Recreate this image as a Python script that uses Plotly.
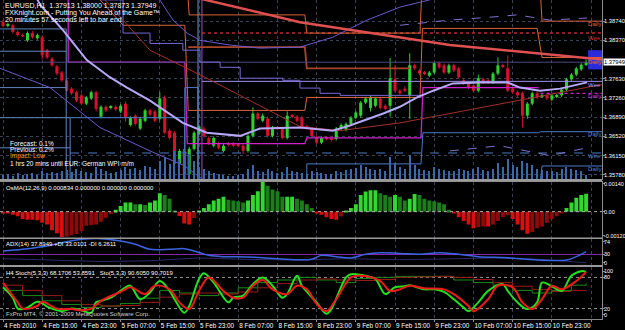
import plotly.graph_objects as go

# ---------------- data ----------------
time_labels = ["4 Feb 2010", "4 Feb 15:00", "4 Feb 23:00", "5 Feb 07:00", "5 Feb 15:00",
               "5 Feb 23:00", "8 Feb 07:00", "8 Feb 15:00", "8 Feb 23:00", "9 Feb 07:00",
               "9 Feb 15:00", "9 Feb 23:00", "10 Feb 07:00", "10 Feb 15:00", "10 Feb 23:00",
               "11 Feb 07:00"]
time_label_bars = [0, 8, 16, 24, 32, 40, 48, 56, 64, 72, 80, 88, 96, 104, 112, 120]

price_ticks = [1.38740, 1.38370, 1.37630, 1.37260, 1.36890, 1.36520, 1.36150, 1.35780]
last_price = 1.37949

opens = [1.3872, 1.3865, 1.3866, 1.3853, 1.3847, 1.3837, 1.3851, 1.3841, 1.3843, 1.3818,
         1.3802, 1.3787, 1.3775, 1.3760, 1.3744, 1.3737, 1.3731, 1.3715, 1.3725, 1.3737,
         1.3690, 1.3709, 1.3707, 1.3709, 1.3700, 1.3715, 1.3674, 1.3692, 1.3667, 1.3682,
         1.3702, 1.3700, 1.3686, 1.3727, 1.3663, 1.3659, 1.3599, 1.3624, 1.3579, 1.3628,
         1.3657, 1.3667, 1.3649, 1.3634, 1.3638, 1.3624, 1.3638, 1.3638, 1.3636, 1.3634,
         1.3624, 1.3653, 1.3696, 1.3682, 1.3686, 1.3653, 1.3669, 1.3667, 1.3649, 1.3692,
         1.3690, 1.3688, 1.3672, 1.3667, 1.3651, 1.3640, 1.3649, 1.3649, 1.3647, 1.3667,
         1.3665, 1.3676, 1.3688, 1.3692, 1.3717, 1.3707, 1.3711, 1.3725, 1.3711, 1.3711,
         1.3762, 1.3740, 1.3744, 1.3731, 1.3789, 1.3779, 1.3775, 1.3769, 1.3775, 1.3793,
         1.3789, 1.3775, 1.3789, 1.3783, 1.3760, 1.3754, 1.3750, 1.3740, 1.3762, 1.3760,
         1.3756, 1.3773, 1.3789, 1.3783, 1.3744, 1.3737, 1.3735, 1.3692, 1.3715, 1.3735,
         1.3729, 1.3731, 1.3723, 1.3729, 1.3731, 1.3742, 1.3762, 1.3771, 1.3781, 1.37913]
highs = [1.3876, 1.3871, 1.3869, 1.3856, 1.3850, 1.3854, 1.3855, 1.3850, 1.3846, 1.3821,
         1.3805, 1.3790, 1.3778, 1.3763, 1.3747, 1.3740, 1.3734, 1.3730, 1.3740, 1.3740,
         1.3712, 1.3712, 1.3712, 1.3712, 1.3714, 1.3719, 1.3691, 1.3695, 1.3689, 1.3705,
         1.3705, 1.3703, 1.3737, 1.3731, 1.3667, 1.3662, 1.3628, 1.3630, 1.3632, 1.3662,
         1.3675, 1.3671, 1.3652, 1.3652, 1.3642, 1.3637, 1.3641, 1.3641, 1.3639, 1.3637,
         1.3656, 1.3708, 1.3699, 1.3696, 1.3690, 1.3672, 1.3672, 1.3670, 1.3700, 1.3695,
         1.3693, 1.3691, 1.3675, 1.3670, 1.3654, 1.3652, 1.3652, 1.3652, 1.3670, 1.3677,
         1.3679, 1.3691, 1.3701, 1.3720, 1.3728, 1.3730, 1.3728, 1.3728, 1.3714, 1.3803,
         1.3789, 1.3743, 1.3748, 1.3812, 1.3792, 1.3782, 1.3778, 1.3778, 1.3796, 1.3796,
         1.3792, 1.3792, 1.3792, 1.3786, 1.3763, 1.3757, 1.3753, 1.3771, 1.3765, 1.3763,
         1.3776, 1.3804, 1.3792, 1.3808, 1.3747, 1.3740, 1.3738, 1.3718, 1.3738, 1.3738,
         1.3734, 1.3734, 1.3734, 1.3734, 1.3745, 1.3765, 1.3774, 1.3786, 1.3793, 1.38000]
lows = [1.3862, 1.3862, 1.3850, 1.3844, 1.3843, 1.3834, 1.3840, 1.3838, 1.3800, 1.3801,
        1.3786, 1.3770, 1.3757, 1.3737, 1.3732, 1.3718, 1.3712, 1.3712, 1.3722, 1.3700,
        1.3687, 1.3699, 1.3704, 1.3701, 1.3697, 1.3680, 1.3671, 1.3673, 1.3664, 1.3679,
        1.3691, 1.3679, 1.3683, 1.3656, 1.3646, 1.3591, 1.3596, 1.3575, 1.3576, 1.3625,
        1.3654, 1.3650, 1.3635, 1.3631, 1.3627, 1.3621, 1.3633, 1.3631, 1.3631, 1.3618,
        1.3621, 1.3650, 1.3683, 1.3679, 1.3650, 1.3650, 1.3664, 1.3646, 1.3646, 1.3687,
        1.3679, 1.3666, 1.3668, 1.3650, 1.3637, 1.3637, 1.3644, 1.3642, 1.3644, 1.3664,
        1.3662, 1.3673, 1.3685, 1.3688, 1.3714, 1.3700, 1.3708, 1.3704, 1.3702, 1.3690,
        1.3737, 1.3732, 1.3737, 1.3686, 1.3780, 1.3770, 1.3770, 1.3766, 1.3772, 1.3782,
        1.3772, 1.3772, 1.3776, 1.3763, 1.3751, 1.3743, 1.3737, 1.3737, 1.3753, 1.3753,
        1.3753, 1.3770, 1.3784, 1.3737, 1.3734, 1.3728, 1.3669, 1.3686, 1.3712, 1.3724,
        1.3726, 1.3722, 1.3720, 1.3726, 1.3728, 1.3739, 1.3759, 1.3768, 1.3778, 1.37873]
closes = [1.3865, 1.3868, 1.3853, 1.3847, 1.3846, 1.3851, 1.3843, 1.3847, 1.3808, 1.3804,
          1.3789, 1.3773, 1.3760, 1.3740, 1.3735, 1.3721, 1.3715, 1.3727, 1.3737, 1.3705,
          1.3709, 1.3702, 1.3709, 1.3704, 1.3711, 1.3688, 1.3688, 1.3676, 1.3686, 1.3702,
          1.3694, 1.3682, 1.3725, 1.3659, 1.3649, 1.3599, 1.3624, 1.3579, 1.3628, 1.3659,
          1.3671, 1.3653, 1.3638, 1.3649, 1.3630, 1.3634, 1.3636, 1.3634, 1.3634, 1.3624,
          1.3653, 1.3696, 1.3686, 1.3692, 1.3653, 1.3669, 1.3667, 1.3649, 1.3692, 1.3690,
          1.3682, 1.3669, 1.3671, 1.3653, 1.3640, 1.3649, 1.3647, 1.3645, 1.3667, 1.3674,
          1.3676, 1.3688, 1.3698, 1.3717, 1.3725, 1.3727, 1.3725, 1.3707, 1.3705, 1.3764,
          1.3740, 1.3735, 1.3740, 1.3789, 1.3783, 1.3773, 1.3773, 1.3775, 1.3793, 1.3785,
          1.3775, 1.3789, 1.3779, 1.3766, 1.3754, 1.3746, 1.3740, 1.3764, 1.3756, 1.3756,
          1.3773, 1.3789, 1.3787, 1.3740, 1.3737, 1.3731, 1.3692, 1.3715, 1.3735, 1.3727,
          1.3731, 1.3725, 1.3731, 1.3731, 1.3742, 1.3762, 1.3771, 1.3783, 1.3790, 1.37949]
bars = list(range(len(closes)))

volumes = [120, 150, 90, 180, 120, 150, 180, 120, 240, 180,
           210, 180, 240, 270, 210, 300, 240, 210, 180, 360,
           300, 240, 180, 210, 270, 360, 300, 330, 270, 390,
           360, 300, 540, 660, 450, 840, 600, 900, 750, 540,
           360, 300, 240, 180, 150, 120, 90, 90, 120, 150,
           300, 420, 240, 210, 300, 240, 180, 210, 360, 240,
           210, 180, 150, 240, 210, 180, 150, 150, 240, 210,
           270, 300, 330, 420, 360, 300, 270, 300, 240, 660,
           480, 360, 300, 720, 420, 300, 270, 240, 360, 300,
           270, 240, 240, 300, 270, 240, 300, 360, 270, 240,
           300, 480, 360, 600, 420, 360, 540, 480, 420, 300,
           270, 240, 240, 210, 300, 360, 300, 270, 240, 120]

osma = [-0.00005, -0.00009, -0.00014, -0.00021, -0.00034, -0.00038, -0.00038, -0.00040, -0.00052, -0.00060,
        -0.00086, -0.00100, -0.00118, -0.00116, -0.00110, -0.00104, -0.00091, -0.00066, -0.00063, -0.00060,
        -0.00047, -0.00028, -0.00011, 0.00009, 0.00026, 0.00043, 0.00043, 0.00034, 0.00034, 0.00031,
        0.00043, 0.00052, 0.00086, 0.00077, 0.00060, 0.00005, -0.00020, -0.00055, -0.00060, -0.00030,
        0.00005, 0.00017, 0.00034, 0.00052, 0.00060, 0.00069, 0.00055, 0.00052, 0.00048, 0.00043,
        0.00052, 0.00077, 0.00095, 0.00140, 0.00120, 0.00103, 0.00095, 0.00069, 0.00069, 0.00069,
        0.00060, 0.00052, 0.00034, 0.00017, -0.00005, -0.00014, -0.00026, -0.00034, -0.00038, -0.00021,
        0.00003, 0.00017, 0.00034, 0.00077, 0.00094, 0.00099, 0.00099, 0.00086, 0.00077, 0.00069,
        0.00077, 0.00069, 0.00052, 0.00060, 0.00082, 0.00077, 0.00060, 0.00052, 0.00048, 0.00043,
        0.00034, 0.00009, -0.00005, -0.00026, -0.00043, -0.00060, -0.00077, -0.00072, -0.00069, -0.00069,
        -0.00060, -0.00043, -0.00026, -0.00017, -0.00034, -0.00060, -0.00086, -0.00103, -0.00094, -0.00077,
        -0.00069, -0.00052, -0.00034, -0.00021, -0.00005, 0.00017, 0.00043, 0.00065, 0.00077, 0.000834]
osma_labels = ["0.00140", "0.00", "-0.00120"]
osma_label_vals = [0.00129, 0, -0.00111]

adx_bar = [0, 4, 9, 12, 16, 20, 24, 27, 30, 34, 37, 39, 42, 45, 48, 53, 56, 63, 65, 68,
           71, 74, 77, 81, 85, 89, 93, 97, 103, 109, 115, 117, 119]
adx_val = [40, 44.7, 54, 63.5, 73, 75, 68, 59, 44.7, 44.7, 46.5, 40, 27.6, 23.7, 23.7, 20.8, 18, 16.1, 27.6, 23.7,
           20, 30.5, 35, 33, 30.5, 35, 30.5, 23.7, 20.8, 14.2, 14.2, 23.7, 37.89]
minus_di_bar = [0, 10, 20, 30, 40, 50, 60, 70, 80, 90, 100, 110, 119]
minus_di_val = [18, 14, 10, 12, 20, 16, 14, 18, 15, 17, 20, 16, 6.3]
adx_level = 30
adx_labels = ["74", "30", "0"]
adx_label_vals = [66, 30, 6]

stoch_main_bar = [0, 2, 3, 4, 5, 7, 8, 9, 10, 12, 14, 16, 18, 19, 20, 22, 25, 26, 28, 30, 32, 34, 35, 37, 38,
                  40, 41, 43, 46, 47, 49, 51, 53, 55, 57, 58, 60, 61, 64, 66, 67, 70, 71, 74, 76, 78, 80,
                  82, 83, 86, 88, 90, 92, 94, 95, 97, 99, 102, 103, 105, 107, 109, 110, 112, 114, 116, 118, 119]
stoch_main_val = [61, 41, 20, 19, 22, 33, 30, 24, 20, 15, 20, 17, 12, 32, 35, 41, 61, 64, 38, 51, 73, 54, 38, 12, 25,
                  77, 88, 70, 32, 41, 45, 67, 80, 64, 41, 48, 83, 64, 32, 10, 19, 80, 86, 83, 77, 48, 61,
                  63, 65, 57, 57, 52, 38, 22, 15, 32, 54, 67, 54, 32, 19, 32, 70, 63, 54, 83, 92, 90.6]
stoch_sig_bar = [0, 3, 4, 7, 8, 11, 14, 16, 18, 20, 24, 26, 29, 31, 34, 36, 38, 40, 42, 45, 47, 49, 51, 53, 55,
                 58, 60, 62, 64, 66, 68, 71, 73, 77, 79, 81, 83, 86, 90, 92, 95, 96, 99, 101, 104, 106, 108,
                 110, 112, 114, 117, 119]
stoch_sig_val = [70, 32, 20, 25, 33, 20, 19, 17, 20, 35, 52, 61, 48, 64, 57, 32, 19, 54, 80, 54, 41, 41, 64, 75, 57,
                 48, 64, 57, 29, 15, 38, 80, 83, 73, 54, 57, 64, 59, 57, 48, 25, 15, 38, 64, 61, 32, 19,
                 38, 64, 57, 73, 90.7]
h4_main_bar = [0, 4, 8, 12, 16, 20, 24, 28, 32, 36, 40, 44, 48, 52, 56, 60, 64, 68, 72, 76, 80, 84, 88, 92, 96,
               100, 104, 108, 112, 116, 119]
h4_main_val = [55, 45, 35, 28, 22, 25, 30, 40, 55, 50, 45, 50, 60, 70, 75, 80, 75, 70, 78, 80, 82, 82, 82, 75, 70,
               65, 55, 50, 55, 65, 68.17]
h4_sig_val = [65, 55, 45, 35, 28, 25, 26, 32, 42, 48, 50, 48, 52, 60, 68, 75, 77, 75, 74, 76, 80, 81, 82, 80, 76,
              70, 63, 57, 53, 55, 53.86]
stoch_levels = [80, 20]
stoch_labels = ["100", "80", "20", "0"]
stoch_label_vals = [91.5, 80, 20, 8]

# main-chart indicator lines (bar position, price)
trend_bar = [35, 60.6, 91.2, 122.3]
trend_val = [1.3929, 1.3872, 1.3828, 1.3800]
slow_ma_bar = [20.8, 30, 41.6, 60.6, 68.8, 81, 91.2, 108.2, 119.8, 122.3]
slow_ma_val = [1.3915, 1.3818, 1.3764, 1.3671, 1.3663, 1.3678, 1.3696, 1.3727, 1.3748, 1.3752]
ma_bar = [6.5, 7.6, 12.2, 17.1, 21.8, 25.3, 30, 36.7, 41.6, 48.4, 52.4, 60.6, 67.3, 70.8, 77.6, 81, 84.5,
          87.8, 91.8, 97.3, 102.9, 105.5, 109.6, 113.7, 119.2]
ma_val = [1.3925, 1.3905, 1.3857, 1.3799, 1.3766, 1.3746, 1.3721, 1.3678, 1.3659, 1.3653, 1.3667, 1.3669,
          1.3663, 1.3673, 1.3696, 1.3709, 1.3727, 1.3740, 1.3754, 1.3756, 1.3756, 1.3746, 1.3740, 1.3744, 1.3756]
band_up_bar = [32, 34.7, 37.6, 40.2, 46.3, 52.4, 60.6, 67.3, 74.3, 81, 87.1]
band_up_val = [1.3915, 1.3876, 1.3851, 1.3837, 1.3828, 1.3822, 1.3824, 1.3843, 1.3876, 1.3901, 1.3915]
band_lo_bar = [-0.6, 9.6, 19.8, 30, 37.1, 41.2]
band_lo_val = [1.3783, 1.3746, 1.3669, 1.3624, 1.3595, 1.3566]
env_up_bar = [81, 91.2, 100, 104.9, 111.6, 119.2]
env_up_val = [1.3866, 1.3876, 1.3882, 1.3886, 1.3876, 1.3880]
env_lo_bar = [91.2, 101.4, 111.6, 119.2]
env_lo_val = [1.3624, 1.3634, 1.3615, 1.3630]
step_bar = [19.8, 24.5, 30, 36.7, 40.2, 44.3, 48.4, 57.1, 60.6, 64.7, 68.8, 85.1]
step_val = [1.3915, 1.3851, 1.3831, 1.3818, 1.3795, 1.3785, 1.3764, 1.3760, 1.3745, 1.3735, 1.3731, 1.3731]

# daily / weekly pivot step levels
orange_a_bar = [19.8, 24.5, 37.1, 37.8, 61.6, 62.0, 85.1, 85.6, 109.0, 110.0, 122.3]
orange_a_val = [1.3915, 1.3866, 1.3866, 1.3702, 1.3702, 1.3727, 1.3727, 1.3860, 1.3860, 1.3804, 1.3804]
orange_b_bar = [37.6, 38.0, 61.6, 62.0, 85.1, 85.5, None, 109.6, 110.0, 122.3]
orange_b_val = [1.3940, 1.3886, 1.3886, 1.3851, 1.3851, 1.3940, None, 1.3940, 1.3874, 1.3874]
brown_bar = [37.8, 61.6, 62.0, 83.0]
brown_val = [1.3824, 1.3824, 1.3783, 1.3783]
magenta_bar = [13.3, 13.3, 37.1, 37.6, 61.6, 62.0, 85.3, 85.7, 109.3]
magenta_val = [1.3940, 1.3795, 1.3795, 1.3638, 1.3638, 1.3649, 1.3649, 1.3746, 1.3746]
magenta_now_bar = [109.7, 122.3]
magenta_now_val = [1.3735, 1.3735]
blue_old_bar = [-0.6, 12.9, 12.9, None, -0.6, 12.9, None, -0.6, 12.9, None, -0.6, 13.7, 13.7, None, -0.6, 13.7]
blue_old_val = [1.3859, 1.3859, 1.3560, None, 1.3816, 1.3816, None, 1.3746, 1.3746, None, 1.3688, 1.3688, 1.3560,
                None, 1.3630, 1.3630]
blue_s1_bar = [13.7, 37.1, 37.1, 37.1, 39.8, 39.8, None, 62.0, 62.0, 85.3, 85.7, 109.3, 109.7, 122.3]
blue_s1_val = [1.3688, 1.3688, 1.3560, 1.3746, 1.3746, 1.3560, None, 1.3560, 1.3599, 1.3599, 1.3659, 1.3659,
               1.3661, 1.3661]
blue_s2_bar = [109.6, 110.0, 122.3]
blue_s2_val = [1.3560, 1.3595, 1.3595]
separator_bar = [39.8, 40.6]
weekly_r1 = 1.3851
weekly_pp = 1.3758
weekly_s1 = 1.3620
weekly_start = [40.6, 13.7]

level_label_text = ["Daily", "Wee", "Daily", "Wee", "Daily", "Daily", "Wee", "Daily"]
level_label_val = [1.3868, 1.3841, 1.3795, 1.3750, 1.3729, 1.3655, 1.3614, 1.3589]
level_label_col = ["#e0603a", "#d03030", "#e0603a", "#a898f0", "#d030d0", "#5080d0", "#5080d0", "#5080d0"]

box_bar = [119.4, 122.3]
box_val = [1.3781, 1.3818]

# ---------------- figure ----------------
W, H = 625, 330
ML, MR, MT, MB = 0, 23, 0, 11
PW, PH = W - ML - MR, H - MT - MB
XR = [-0.612, 122.24]
FONT = "Liberation Sans"
UP, DN = "#2ed02e", "#d8102e"


def pyf(p):
    return 1 - p / PH


def pxf(p):
    return p / PW


fig = go.Figure()

# volume
fig.add_trace(go.Bar(x=bars, y=volumes, xaxis="x", yaxis="y5", width=0.22,
                     marker=dict(color="#3a68a8", line=dict(width=0)), hoverinfo="skip"))

# candles: wicks + bodies (positions come from the OHLC data through the axes)
wx_up, wy_up, wx_dn, wy_dn = [], [], [], []
body_base, body_len, body_col = [], [], []
for i, o, h, l, c in zip(bars, opens, highs, lows, closes):
    if c >= o:
        wx_up += [i, i, None]
        wy_up += [l, h, None]
        body_col.append(UP)
    else:
        wx_dn += [i, i, None]
        wy_dn += [l, h, None]
        body_col.append(DN)
    body_base.append(min(o, c))
    body_len.append(max(abs(c - o), 0.00006))
fig.add_trace(go.Scatter(x=wx_up, y=wy_up, mode="lines", line=dict(color=UP, width=1),
                         xaxis="x", yaxis="y", hoverinfo="skip"))
fig.add_trace(go.Scatter(x=wx_dn, y=wy_dn, mode="lines", line=dict(color=DN, width=1),
                         xaxis="x", yaxis="y", hoverinfo="skip"))
fig.add_trace(go.Bar(x=bars, base=body_base, y=body_len, width=0.62, xaxis="x", yaxis="y",
                     marker=dict(color=body_col, line=dict(width=0)), hoverinfo="skip"))


def line(xs, ys, color, width=1, dash="solid", shape="linear", ax="y", xa="x"):
    fig.add_trace(go.Scatter(x=xs, y=ys, mode="lines", xaxis=xa, yaxis=ax,
                             line=dict(color=color, width=width, dash=dash, shape=shape),
                             connectgaps=False, hoverinfo="skip"))


# pivot levels and separators
line(blue_old_bar, blue_old_val, "#5f86c0")
line(blue_s1_bar, blue_s1_val, "#4a7cc8")
line(blue_s2_bar, blue_s2_val, "#4a7cc8")
line([separator_bar[0]] * 2, [1.3560, 1.3940], "#6f9ad8")
line([separator_bar[1]] * 2, [1.3560, 1.3940], "#9a50c8")
line([weekly_start[1], XR[1]], [weekly_s1] * 2, "#4a7cc8", dash="dash")
line([weekly_start[0], XR[1]], [weekly_pp] * 2, "#a090f0")
line([weekly_start[0], XR[1]], [weekly_r1] * 2, "#c02828", width=1.5, dash="dot")
line(orange_a_bar, orange_a_val, "#d8643c")
line(orange_b_bar, orange_b_val, "#d8643c")
line(brown_bar, brown_val, "#a8452a", width=1.8)
line(magenta_bar, magenta_val, "#cc22cc", width=1.3)
line(magenta_now_bar, magenta_now_val, "#cc22cc", width=1.3, dash="dot")
line([XR[0], XR[1]], [last_price] * 2, "#4a4a80")

# moving averages / bands
line(band_up_bar, band_up_val, "#6a5acd")
line(band_lo_bar, band_lo_val, "#6a5acd")
line(step_bar, step_val, "#7868d8", shape="hv")
line(env_up_bar, env_up_val, "#8070d0", dash="dash")
line(env_lo_bar, env_lo_val, "#8070d0", dash="dash")
line(slow_ma_bar, slow_ma_val, "#a0302a")
line(trend_bar, trend_val, "#e05050", width=2.5)
line(ma_bar, ma_val, "#b8a8f8", width=2)

# level labels
fig.add_trace(go.Scatter(x=[119.4] * len(level_label_text), y=level_label_val, mode="text",
                         text=level_label_text, textposition="middle right", cliponaxis=False,
                         textfont=dict(color=level_label_col, size=6, family=FONT),
                         xaxis="x", yaxis="y", hoverinfo="skip"))

# OsMA histogram
osma_cols = []
for i, v in enumerate(osma):
    prev = osma[i - 1] if i > 0 else 0
    if v >= 0:
        osma_cols.append("#33d633" if v >= prev else "#1d7d1d")
    else:
        osma_cols.append("#d61010" if v <= prev else "#8c0a0a")
fig.add_trace(go.Bar(x=bars, y=osma, xaxis="x2", yaxis="y2", width=0.8,
                     marker=dict(color=osma_cols, line=dict(width=0)), hoverinfo="skip"))
line([XR[0], XR[1]], [0, 0], "#b0b0b0", dash="dot", ax="y2", xa="x2")

# ADX
line([XR[0], XR[1]], [adx_level] * 2, "#8a2ab0", ax="y3", xa="x3")
line(minus_di_bar, minus_di_val, "#2a2a6a", ax="y3", xa="x3")
line(adx_bar, adx_val, "#3a64e0", width=1.5, shape="spline", ax="y3", xa="x3")

# Stochastics
for lv in stoch_levels:
    line([XR[0], XR[1]], [lv, lv], "#9a9a9a", dash="dot", ax="y4", xa="x4")
line(h4_main_bar, h4_main_val, "#1a8a1a", shape="hv", ax="y4", xa="x4")
line(h4_main_bar, h4_sig_val, "#9a1a1a", shape="hv", ax="y4", xa="x4")
line(stoch_main_bar, stoch_main_val, "#22e022", width=2, shape="spline", ax="y4", xa="x4")
line(stoch_sig_bar, stoch_sig_val, "#ee1a1a", width=2, shape="spline", ax="y4", xa="x4")

# ---------------- layout ----------------
grid = dict(showgrid=True, gridcolor="#36425a", griddash="dot", gridwidth=1)
frame = dict(showline=True, mirror=True, linecolor="#8a8a8a", linewidth=1, zeroline=False, automargin=False)
yax_common = dict(side="right", ticks="outside", ticklen=2, tickcolor="#8a8a8a", showticklabels=False)

doms = {"y": [1 - 179 / PH, 1], "y2": [1 - 237.5 / PH, 1 - 181.5 / PH],
        "y3": [1 - 265 / PH, 1 - 239 / PH], "y4": [0, 1 - 267 / PH]}

xcommon = dict(range=XR, tickvals=time_label_bars, ticktext=time_labels, fixedrange=True, tickangle=0,
               **grid, **frame)
layout = dict(
    width=W, height=H, margin=dict(l=ML, r=MR, t=MT, b=MB, autoexpand=False),
    paper_bgcolor="#000000", plot_bgcolor="#000000", showlegend=False, barmode="overlay",
    font=dict(family=FONT, color="#ffffff", size=8),
    xaxis=dict(anchor="y", showticklabels=False, ticks="", rangeslider=dict(visible=False), **xcommon),
    xaxis2=dict(anchor="y2", showticklabels=False, ticks="", **xcommon),
    xaxis3=dict(anchor="y3", showticklabels=False, ticks="", **xcommon),
    xaxis4=dict(anchor="y4", showticklabels=True, ticks="outside", ticklen=2, tickcolor="#8a8a8a",
                ticklabelposition="outside right", ticklabelstandoff=0,
                tickfont=dict(color="#ffffff", size=6.4, family=FONT), **xcommon),
    yaxis=dict(domain=doms["y"], range=[1.35699, 1.39147], tickvals=price_ticks, **yax_common, **grid, **frame),
    yaxis5=dict(domain=doms["y"], overlaying="y", range=[0, 179 * 30], visible=False),
    yaxis2=dict(domain=doms["y2"], range=[-0.0012, 0.0014], tickvals=osma_label_vals, showgrid=False,
                **yax_common, **frame),
    yaxis3=dict(domain=doms["y3"], range=[0, 74], tickvals=adx_label_vals, showgrid=False,
                **yax_common, **frame),
    yaxis4=dict(domain=doms["y4"], range=[0, 100], tickvals=stoch_label_vals, showgrid=False,
                **yax_common, **frame),
)
fig.update_layout(**layout)


def axis_label(text, val, yref, size=5.8, color="#ffffff", bg=None):
    fig.add_annotation(x=1, xref="paper", y=val, yref=yref, text=text, showarrow=False,
                       xanchor="left", yanchor="middle", xshift=0.5, bgcolor=bg, borderpad=0,
                       font=dict(color=color, size=size, family=FONT))


for v in price_ticks:
    axis_label("%.5f" % v, v, "y")
for t, v in zip(osma_labels, osma_label_vals):
    axis_label(t, v, "y2", size=5.5)
for t, v in zip(adx_labels, adx_label_vals):
    axis_label(t, v, "y3", size=5.5)
for t, v in zip(stoch_labels, stoch_label_vals):
    axis_label(t, v, "y4", size=5.5)
axis_label("%.5f" % last_price, last_price, "y", color="#000000", bg="#ffffff")

# panel separators
for a, b in [(179, 181.5), (237.5, 239), (265, 267)]:
    fig.add_shape(type="rect", xref="paper", yref="paper", x0=0, x1=1, y0=pyf(b), y1=pyf(a),
                  fillcolor="#9a9a9a", line=dict(width=0), layer="above")

# blue marker box
fig.add_shape(type="rect", xref="x", yref="y", x0=box_bar[0], x1=box_bar[1], y0=box_val[0], y1=box_val[1],
              fillcolor="#2b2bdc", line=dict(width=0), layer="below")

# texts
texts = [
    (3, 5.5, "EURUSD,H1\u00a0\u00a01.37913 1.38000 1.37873 1.37949", "#ffffff", 7),
    (3, 12.5, "FXKnight.com - Putting You Ahead of the Game\u2122", "#ffffff", 7),
    (3, 19.5, "20 minutes 57 seconds left to bar end", "#ffffff", 7),
    (8, 143, "Forecast: 0.1%", "#ffffff", 6.5),
    (8, 149.5, "Previous: 0.2%", "#ffffff", 6.5),
    (8, 156, "Impact: Low", "#ff9900", 6.5),
    (8, 163, "1 hrs 20 mins until EUR: German WPI m/m", "#ffffff", 6.5),
    (4, 188, "OsMA(12,26,9) 0.000834 0.000000 0.000000 0.000000", "#ffffff", 6),
    (4, 244, "ADX(14) 37.8949 +DI 33.0101 -DI 6.2611", "#ffffff", 6),
    (4, 272.5, "H4 Stoch(5,3,3) 68.1706 53.8591\u00a0\u00a0\u00a0Sto(5,3,3) 90.6050 90.7019", "#ffffff", 6),
    (4, 314, "FxPro MT4, \u00a9 2001-2009 MetaQuotes Software Corp.", "#d0d0d0", 6),
]
for x, y, t, c, s in texts:
    fig.add_annotation(x=pxf(x), y=pyf(y), xref="paper", yref="paper", text=t, showarrow=False,
                       xanchor="left", yanchor="middle", font=dict(color=c, size=s, family=FONT))

fig.write_html("out.html")
